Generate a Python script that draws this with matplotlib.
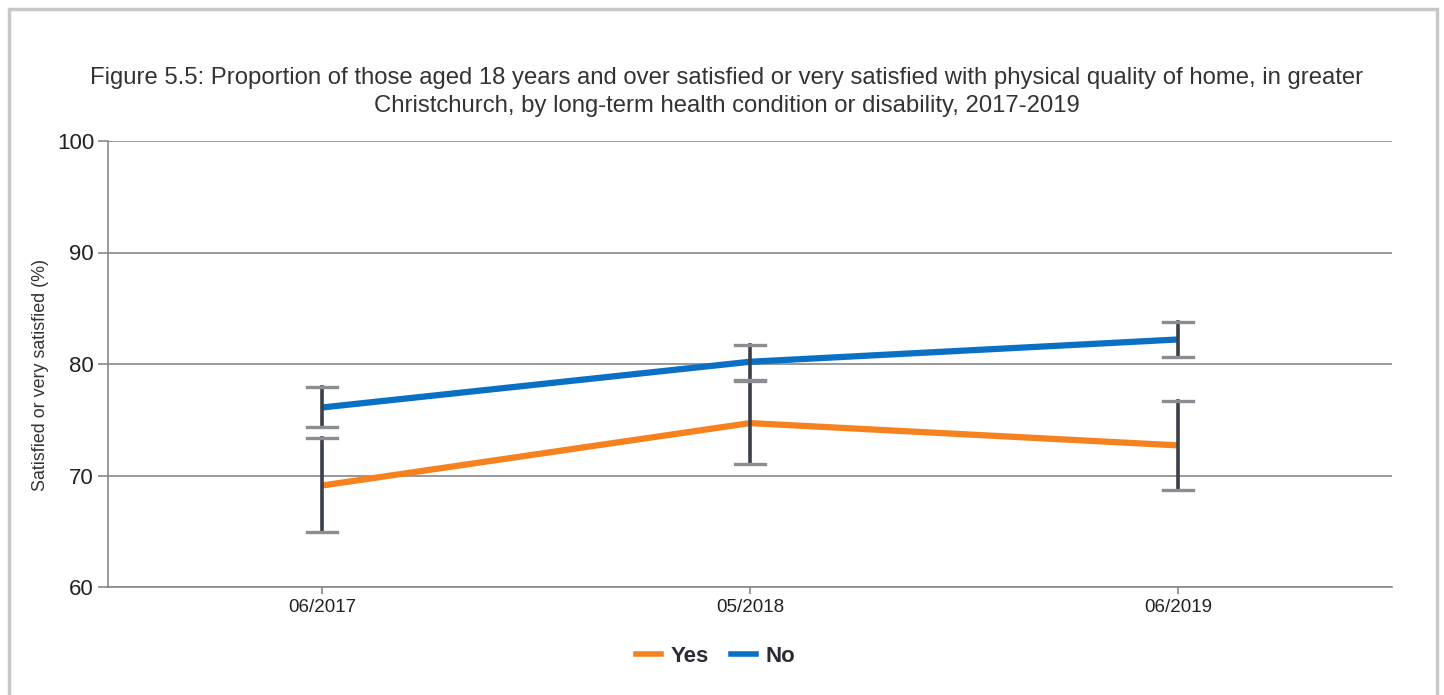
import matplotlib
matplotlib.use("Agg")
import matplotlib.pyplot as plt
import numpy as np
from matplotlib.patches import Rectangle
from matplotlib.lines import Line2D

plt.rcParams['font.family'] = ['Liberation Sans', 'DejaVu Sans']

# Data
periods = ['06/2017', '05/2018', '06/2019']
yes_vals = [69.1, 74.7, 72.7]
yes_lo = [64.9, 71.0, 68.7]
yes_hi = [73.4, 78.5, 76.7]
no_vals = [76.1, 80.2, 82.2]
no_lo = [74.35, 78.6, 80.6]
no_hi = [77.9, 81.7, 83.75]

title = ('Figure 5.5: Proportion of those aged 18 years and over satisfied or very satisfied with physical quality of home, in greater\n'
         'Christchurch, by long-term health condition or disability, 2017-2019')

orange = '#f5821f'
blue = '#0a70c4'
bar_col = '#3b3f48'
cap_col = '#8a8d92'
grid_col = '#888888'

fig = plt.figure(figsize=(14.44, 6.95), dpi=100)
# outer frame
fig.patches.append(Rectangle((9 / 1444, -0.1), (1437 - 9) / 1444, 1.1 - 9 / 695,
                             transform=fig.transFigure, fill=False,
                             edgecolor='#c8c8c8', linewidth=2.5))

ax = fig.add_axes([108 / 1444, 1 - 587 / 695, (1392 - 108) / 1444, (587 - 141) / 695])

x = np.arange(len(periods))

for vals, col in [(yes_vals, orange), (no_vals, blue)]:
    ax.plot(x, vals, color=col, linewidth=4.5, solid_capstyle='butt', zorder=3)

cw = 0.036
for lo, hi in [(yes_lo, yes_hi), (no_lo, no_hi)]:
    for i in range(len(x)):
        ax.plot([x[i], x[i]], [lo[i], hi[i]], color=bar_col, linewidth=2.6, zorder=4)
        for v in (lo[i], hi[i]):
            ax.plot([x[i] - cw, x[i] + cw], [v, v], color=cap_col, linewidth=2.4, zorder=4)

ax.set_xlim(-0.5, 2.5)
ax.set_ylim(60, 100)
ax.set_yticks([60, 70, 80, 90, 100])
ax.set_xticks(x)
ax.set_xticklabels(periods)
ax.yaxis.grid(True, color=grid_col, linewidth=1.2)
ax.set_axisbelow(True)
for s in ['top', 'right']:
    ax.spines[s].set_visible(False)
for s in ['left', 'bottom']:
    ax.spines[s].set_color(grid_col)
    ax.spines[s].set_linewidth(1.2)
ax.tick_params(axis='y', length=7, width=1.2, color=grid_col, labelsize=16, labelcolor='#222222', pad=3)
ax.tick_params(axis='x', length=5, width=1.2, color=grid_col, labelsize=13.5, labelcolor='#222222', pad=4)
ax.set_ylabel('Satisfied or very satisfied (%)', fontsize=12.9, color='#333333')
ax.yaxis.set_label_coords(-0.046, 0.475)

fig.text(727 / 1444, 1 - 92 / 695, title, ha='center', va='center', fontsize=17.2,
         color='#333333', linespacing=1.38)

handles = [Line2D([], [], color=orange, linewidth=4), Line2D([], [], color=blue, linewidth=4)]
leg = fig.legend(handles, ['Yes', 'No'], loc='center', bbox_to_anchor=(716 / 1444, 1 - 656 / 695),
                 ncol=2, frameon=False, handlelength=1.1, handletextpad=0.45, columnspacing=1.0,
                 prop={'weight': 'bold', 'size': 16})
for t in leg.get_texts():
    t.set_color('#2b2b33')

fig.savefig('out.png', dpi=100)
